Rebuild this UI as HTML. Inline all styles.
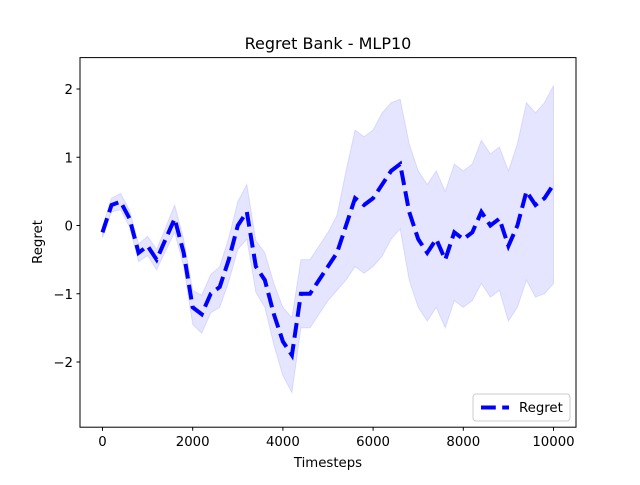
<!DOCTYPE html>
<html><head><meta charset="utf-8"><style>
body{margin:0;background:#fff;}
svg{font-family:"DejaVu Sans","Liberation Sans",sans-serif;}
</style></head><body>
<svg id="chart" width="640" height="480" viewBox="0 0 640 480" xmlns="http://www.w3.org/2000/svg">
<rect width="640" height="480" fill="#fff"/>
<text x="328" y="49" font-size="16" text-anchor="middle">Regret Bank - MLP10</text>
<g id="plot"></g>
<rect x="80" y="57.6" width="496" height="369.6" fill="none" stroke="#000" stroke-width="1"/>
<g id="axes"></g>
<text x="328" y="467" font-size="13.3" text-anchor="middle">Timesteps</text>
<text transform="translate(42,242) rotate(-90)" font-size="13.3" text-anchor="middle">Regret</text>
<g>
<rect x="473" y="394" width="97" height="27" rx="3" fill="#fff" stroke="#ccc" stroke-width="1"/>
<line x1="481" y1="407.5" x2="509" y2="407.5" stroke="#0000ff" stroke-width="4" stroke-dasharray="14.8,6.4"/>
<text x="519" y="412" font-size="13.3">Regret</text>
</g>
</svg>
<script>
const timesteps=[0,200,400,600,800,1000,1200,1400,1600,1800,2000,2200,2400,2600,2800,3000,3200,3400,3600,3800,4000,4200,4400,4600,4800,5000,5200,5400,5600,5800,6000,6200,6400,6600,6800,7000,7200,7400,7600,7800,8000,8200,8400,8600,8800,9000,9200,9400,9600,9800,10000];
const meanRegret=[-0.1,0.3,0.35,0.1,-0.4,-0.3,-0.5,-0.2,0.1,-0.4,-1.2,-1.3,-1.0,-0.9,-0.5,0.0,0.2,-0.6,-0.8,-1.3,-1.7,-1.9,-1.0,-1.0,-0.8,-0.6,-0.4,0.0,0.4,0.3,0.4,0.6,0.8,0.9,0.2,-0.2,-0.4,-0.2,-0.5,-0.1,-0.2,-0.1,0.2,0.0,0.1,-0.3,0.0,0.5,0.3,0.4,0.6];
const stdRegret=[0.08,0.1,0.12,0.12,0.13,0.14,0.15,0.17,0.2,0.2,0.25,0.28,0.28,0.3,0.32,0.35,0.4,0.38,0.4,0.45,0.5,0.55,0.5,0.5,0.5,0.5,0.55,0.8,1.0,1.0,1.0,1.05,1.0,0.95,1.0,1.0,1.0,1.0,1.0,1.0,1.0,1.0,1.05,1.05,1.05,1.1,1.2,1.3,1.35,1.4,1.45];
const xTicks=[0,2000,4000,6000,8000,10000];
const yTicks=[-2,-1,0,1,2];
const yTickLabels=["\u22122","\u22121","0","1","2"];
const X=t=>102.5+t*0.0451;
const Y=v=>225.5-v*68.25;
const NS="http://www.w3.org/2000/svg";
const plot=document.getElementById('plot');
const axes=document.getElementById('axes');
let up=timesteps.map((t,i)=>X(t)+','+Y(meanRegret[i]+stdRegret[i]));
let dn=timesteps.map((t,i)=>X(t)+','+Y(meanRegret[i]-stdRegret[i])).reverse();
const band=document.createElementNS(NS,'polygon');


band.setAttribute('points',up.concat(dn).join(' '));
band.setAttribute('fill','#0000ff');band.setAttribute('fill-opacity','0.1');
band.setAttribute('stroke','#0000ff');band.setAttribute('stroke-opacity','0.1');
plot.appendChild(band);
const line=document.createElementNS(NS,'polyline');


line.setAttribute('points',timesteps.map((t,i)=>X(t)+','+Y(meanRegret[i])).join(' '));
line.setAttribute('fill','none');line.setAttribute('stroke','#0000ff');
line.setAttribute('stroke-width','4');line.setAttribute('stroke-dasharray','14.8,6.4');
plot.appendChild(line);
xTicks.forEach(t=>{
 const l=document.createElementNS(NS,'line');
 
 
 l.setAttribute('x1',X(t));l.setAttribute('x2',X(t));l.setAttribute('y1',427.2);l.setAttribute('y2',430.7);l.setAttribute('stroke','#000');
 axes.appendChild(l);
 const tx=document.createElementNS(NS,'text');
 
 
 tx.setAttribute('x',X(t));tx.setAttribute('y',446);tx.setAttribute('font-size','13.3');tx.setAttribute('text-anchor','middle');
 tx.textContent=t; axes.appendChild(tx);
});
yTicks.forEach((v,i)=>{
 const l=document.createElementNS(NS,'line');
 
 
 l.setAttribute('x1',76.5);l.setAttribute('x2',80);l.setAttribute('y1',Y(v));l.setAttribute('y2',Y(v));l.setAttribute('stroke','#000');
 axes.appendChild(l);
 const tx=document.createElementNS(NS,'text');
 
 
 tx.setAttribute('x',73);tx.setAttribute('y',Y(v)+5);tx.setAttribute('font-size','13.3');tx.setAttribute('text-anchor','end');
 tx.textContent=yTickLabels[i]; axes.appendChild(tx);
});
</script>
</body></html>
